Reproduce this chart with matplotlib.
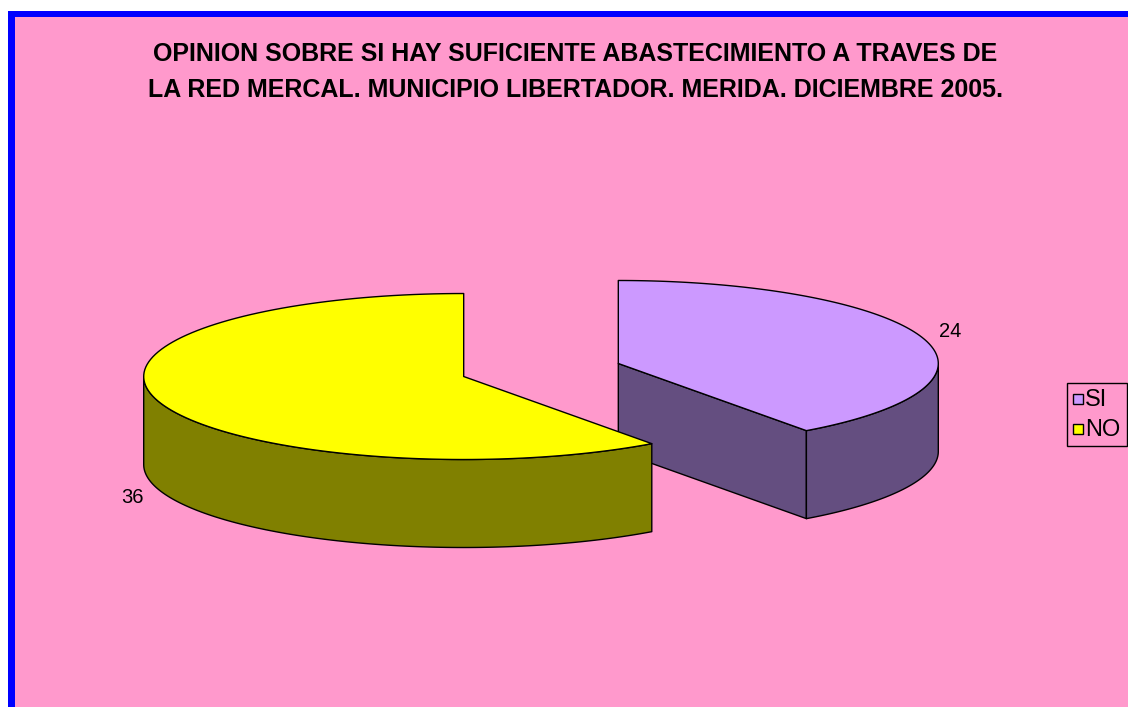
import numpy as np
import matplotlib
matplotlib.use('Agg')
import matplotlib.pyplot as plt
from matplotlib.patches import Polygon, Rectangle

plt.rcParams['font.family'] = ['Liberation Sans', 'DejaVu Sans']

# data
categories = ['SI', 'NO']
values = [24, 36]
top_colors = ['#CC99FF', '#FFFF00']
side_colors = ['#644E80', '#808000']
title = ('OPINION SOBRE SI HAY SUFICIENTE ABASTECIMIENTO A TRAVES DE\n'
         'LA RED MERCAL. MUNICIPIO LIBERTADOR. MERIDA. DICIEMBRE 2005.')

# 3d pie geometry (pixel space)
cx, cy = 541, 370
a, b = 320, 83
depth = 88
explode = 0.254

fig = plt.figure(figsize=(11.28, 7.07), dpi=100)
fig.patch.set_facecolor('white')
ax = fig.add_axes([0, 0, 1, 1])
ax.set_xlim(0, 1128)
ax.set_ylim(707, 0)
ax.axis('off')

# chart area + blue border (top / left)
ax.add_patch(Rectangle((15, 17), 1130, 700, facecolor='#FF99CC', edgecolor='none'))
ax.add_patch(Rectangle((8, 11), 7, 700, facecolor='#0000FF', edgecolor='none'))
ax.add_patch(Rectangle((8, 11), 1130, 6, facecolor='#0000FF', edgecolor='none'))

ax.text(575, 72, title, ha='center', va='center', fontsize=18,
        fontweight='bold', linespacing=1.62)


def pt(x0, y0, t, dz=0):
    return (x0 + a * np.cos(np.radians(t)), y0 - b * np.sin(np.radians(t)) + dz)


def arc(x0, y0, t1, t2, dz=0, n=120):
    ts = np.linspace(t1, t2, n)
    return [pt(x0, y0, t, dz) for t in ts]


total = float(sum(values))
start = 90.0
slices = []
for i, v in enumerate(values):
    sweep = 360.0 * v / total
    end = start - sweep
    mid = (start + end) / 2
    x0 = cx + explode * a * np.cos(np.radians(mid))
    y0 = cy - explode * b * np.sin(np.radians(mid))
    slices.append((i, start, end, mid, x0, y0))
    start = end

for i, s, e, mid, x0, y0 in slices:
    kw = dict(edgecolor='black', linewidth=1.0, joinstyle='round')
    # cut faces
    for t, nrm in ((s, s + 90), (e, e - 90)):
        if np.sin(np.radians(nrm)) < -1e-6:
            p = pt(x0, y0, t)
            face = [(x0, y0), p, (p[0], p[1] + depth), (x0, y0 + depth)]
            ax.add_patch(Polygon(face, closed=True, facecolor=side_colors[i], **kw))
    # outer wall (front half only)
    lo = max(e, -180.0)
    hi = min(s, 0.0)
    if hi > lo:
        wall = arc(x0, y0, lo, hi) + arc(x0, y0, hi, lo, depth)
        ax.add_patch(Polygon(wall, closed=True, facecolor=side_colors[i], **kw))
    # top
    top = [(x0, y0)] + arc(x0, y0, s, e)
    ax.add_patch(Polygon(top, closed=True, facecolor=top_colors[i], **kw))
    # value label
    lx, ly = x0 + 1.09 * a * np.cos(np.radians(mid)), y0 - 1.09 * b * np.sin(np.radians(mid))
    if np.sin(np.radians(mid)) < 0:
        ly += depth + 5
    else:
        ly -= 4
    ax.text(lx, ly, str(values[i]), ha='center', va='center', fontsize=14.5)

# legend
ax.add_patch(Rectangle((1067, 383), 60, 63, facecolor='#FF99CC', edgecolor='black', linewidth=1))
for k, name in enumerate(categories):
    yy = 399 + k * 30
    ax.add_patch(Rectangle((1073, yy - 5), 10, 10, facecolor=top_colors[k], edgecolor='black', linewidth=1))
    ax.text(1085, yy + 1, name, ha='left', va='center', fontsize=17)

fig.savefig('out.png', dpi=100, facecolor=fig.get_facecolor())
